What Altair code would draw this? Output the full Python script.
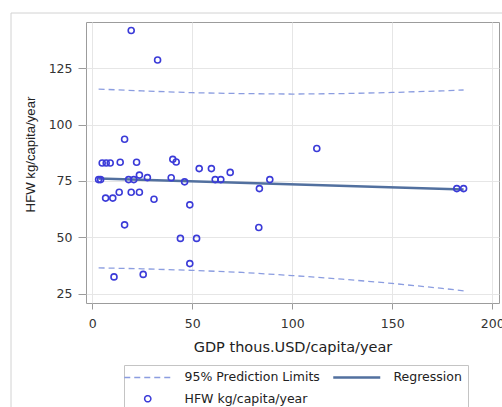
import altair as alt
import pandas as pd

# Household food waste vs GDP, one point per country
gdp = [19.5, 32.7, 16.2, 5.0, 7.0, 9.0, 14.0, 22.2, 40.3, 42.0,
       53.5, 59.6, 69.0, 3.2, 4.2, 18.2, 20.8, 23.6, 27.6, 39.5,
       46.2, 61.5, 64.3, 88.8, 83.6, 6.7, 10.3, 13.5, 19.5, 23.6,
       30.9, 48.8, 16.2, 83.3, 44.1, 52.2, 48.8, 10.9, 25.5, 112.3,
       182.3, 185.7]
hfw = [141.8, 128.7, 93.5, 83.0, 83.0, 83.0, 83.3, 83.3, 84.6, 83.4,
       80.5, 80.5, 78.8, 75.6, 75.6, 75.6, 75.6, 77.6, 76.5, 76.4,
       74.6, 75.6, 75.6, 75.6, 71.6, 67.4, 67.4, 70.0, 70.0, 70.0,
       66.9, 64.4, 55.5, 54.3, 49.5, 49.5, 38.3, 32.4, 33.5, 89.4,
       71.6, 71.6]

# Fitted regression line
fit_gdp = [3.2, 185.7]
fit_hfw = [76.1, 71.2]

# 95% prediction limits
limit_gdp = [3.2, 25, 50, 75, 100, 125, 150, 175, 185.7]
upper_limit = [115.8, 115.0, 114.2, 113.8, 113.6, 113.8, 114.3, 115.0, 115.4]
lower_limit = [36.4, 36.0, 35.3, 34.4, 33.0, 31.4, 29.5, 27.3, 26.2]

LIMITS = "95% Prediction Limits"
REGRESSION = "Regression"
OBSERVED = "HFW kg/capita/year"
# legend columns fill top-to-bottom, so this order gives
# row 1: limits, regression / row 2: observed
LEGEND_ORDER = [LIMITS, OBSERVED, REGRESSION]
LIMIT_COLOR = "#8b9de0"
FIT_COLOR = "#52709f"
POINT_COLOR = "#3b3bd8"

points = pd.DataFrame({"gdp": gdp, "hfw": hfw, "series": OBSERVED})
fit = pd.DataFrame({"gdp": fit_gdp, "hfw": fit_hfw, "series": REGRESSION})
limits = pd.concat([
    pd.DataFrame({"gdp": limit_gdp, "hfw": upper_limit, "bound": "upper"}),
    pd.DataFrame({"gdp": limit_gdp, "hfw": lower_limit, "bound": "lower"}),
])
limits["series"] = LIMITS

GRID = "#e6e6e6"
FRAME = "#9c9c9c"

x_enc = alt.X(
    "gdp:Q",
    scale=alt.Scale(domain=[-3.1, 203.4], nice=False, zero=False),
    axis=alt.Axis(
        title="GDP thous.USD/capita/year",
        values=[0, 50, 100, 150, 200],
        domain=False, grid=True, gridColor=GRID,
        tickColor=FRAME, tickSize=6,
        labelFont="DejaVu Sans", labelFontSize=12.5, labelColor="#333333",
        labelPadding=8.5, labelFlush=False, labelOverlap=False,
        titleFont="DejaVu Sans", titleFontSize=14.5, titleFontWeight="normal",
        titleColor="#222222", titleY=44, titleBaseline="middle",
    ),
)
y_enc = alt.Y(
    "hfw:Q",
    scale=alt.Scale(domain=[20.8, 145.6], nice=False, zero=False),
    axis=alt.Axis(
        title="HFW kg/capita/year",
        values=[25, 50, 75, 100, 125],
        domain=False, grid=True, gridColor=GRID,
        tickColor=FRAME, tickSize=8,
        labelFont="DejaVu Sans", labelFontSize=12.5, labelColor="#333333",
        labelPadding=6,
        titleFont="Liberation Sans", titleFontSize=13.2,
        titleFontWeight="normal", titleColor="#222222",
        titleAngle=270, titleX=-56, titleY=132,
        titleAlign="center", titleBaseline="middle",
    ),
)

line_path = "M-4.7,-0.1H4.7M-4.7,0.1H4.7"
dash_path = "M-4.7,0H4.7"
circle_path = "M-0.62,0A0.62,0.62,0,1,1,0.62,0A0.62,0.62,0,1,1,-0.62,0Z"

legend = alt.Legend(
    title=None, orient="none", legendX=38, legendY=343,
    columns=2, columnPadding=10, rowPadding=8.5, padding=6,
    strokeColor="#c4c4c4", fillColor="white",
    labelFont="DejaVu Sans", labelFontSize=12.5, labelColor="#222222",
    labelOffset=30.5, labelLimit=0,
    symbolSize=100, symbolStrokeWidth=1.5, symbolOffset=11.5,
    symbolFillColor="transparent",
    symbolType={"expr": (
        f"datum.value == '{LIMITS}' ? '{dash_path}' : "
        f"datum.value == '{REGRESSION}' ? '{line_path}' : '{circle_path}'"
    )},
    symbolDash={"expr": f"datum.value == '{LIMITS}' ? [6, 4] : [1, 0]"},
)
color_enc = alt.Color(
    "series:N",
    scale=alt.Scale(domain=LEGEND_ORDER,
                    range=[LIMIT_COLOR, POINT_COLOR, FIT_COLOR]),
    legend=legend,
)

limit_layer = alt.Chart(limits).mark_line(
    strokeDash=[6, 4], strokeWidth=1.3
).encode(x=x_enc, y=y_enc, color=color_enc, detail="bound:N")

fit_layer = alt.Chart(fit).mark_line(strokeWidth=2.6).encode(
    x=x_enc, y=y_enc, color=color_enc
)

point_layer = alt.Chart(points).mark_point(
    shape="circle", filled=False, size=36, strokeWidth=1.6, opacity=1
).encode(x=x_enc, y=y_enc, color=color_enc)

# light outer border around the whole graph
border = alt.Chart(pd.DataFrame({"frame": [0]})).mark_rect(
    fillOpacity=0, stroke="#d2d2d2", strokeWidth=1
).encode(
    x=alt.value(-75), x2=alt.value(700),
    y=alt.value(-9), y2=alt.value(700),
)

chart = alt.layer(border, limit_layer, fit_layer, point_layer).properties(
    width=413, height=281,
    autosize=alt.AutoSizeParams(type="none"),
    padding={"left": 86, "top": 22, "right": 3, "bottom": 104},
    background="white",
).configure_view(stroke=FRAME, strokeWidth=1)

chart.save("out.html", embed_options={"renderer": "svg", "actions": False})
